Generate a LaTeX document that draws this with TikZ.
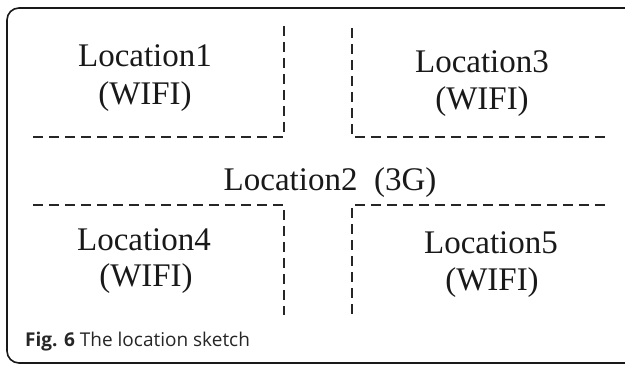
\documentclass[tikz,border=0pt]{standalone}
\usepackage{fontspec}
\setmainfont{Liberation Serif}
\newfontfamily\capfont{Open Sans}
\begin{document}
\begin{tikzpicture}[x=1pt,y=-1pt,
  zone/.style={draw=black!85,line width=1.1pt,dash pattern=on 10pt off 6pt},
  lbl/.style={font=\fontsize{33}{38}\selectfont,align=center,inner sep=0pt,text=black!90},
  frame/.style={draw=black!90,line width=1.6pt,rounded corners=12pt}]
\useasboundingbox (0,0) rectangle (625,365);
\begin{scope}
\clip (0,0) rectangle (625,365);
\draw[frame] (640,8) -- (7,8) -- (7,363) -- (640,363);
\end{scope}
% dashed zone borders
\coordinate (a1) at (33,137); \coordinate (a2) at (284,137); \coordinate (a3) at (284,24);
\coordinate (b1) at (605,137); \coordinate (b2) at (352,137); \coordinate (b3) at (352,24);
\coordinate (c1) at (33,205); \coordinate (c2) at (284,205); \coordinate (c3) at (284,315);
\coordinate (d1) at (605,205); \coordinate (d2) at (352,205); \coordinate (d3) at (352,315);
\draw[zone] (a1) -- (a2) -- (a3);
\draw[zone] (b1) -- (b2) -- (b3);
\draw[zone] (c1) -- (c2) -- (c3);
\draw[zone] (d1) -- (d2) -- (d3);
% labels
\node[lbl] (l1) at (145,56) {Location1};
\node[lbl] (w1) at (145,97) {(WIFI)};
\node[lbl] (l3) at (482,62) {Location3};
\node[lbl] (w3) at (482,102) {(WIFI)};
\node[lbl] (l2) at (330,183) {Location2\ \ (3G)};
\node[lbl] (l4) at (144,240) {Location4};
\node[lbl] (w4) at (146,279) {(WIFI)};
\node[lbl] (l5) at (491,243) {Location5};
\node[lbl] (w5) at (492,283) {(WIFI)};
\node[anchor=west,inner sep=0pt,font=\capfont\fontsize{19}{22}\selectfont,text=black!85] (cap) at (25,342) {\textbf{Fig. 6} The location sketch};
\end{tikzpicture}
\end{document}
